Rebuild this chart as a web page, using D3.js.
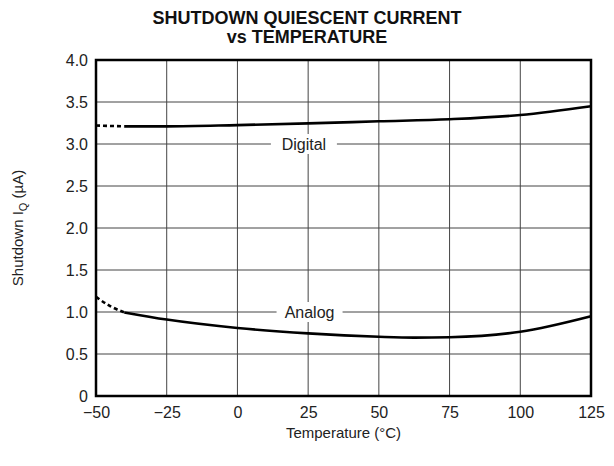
<!DOCTYPE html>
<html>
<head>
<meta charset="utf-8">
<script src="https://cdn.jsdelivr.net/npm/d3@7"></script>
<style>
  html, body { margin: 0; padding: 0; background: #fff; }
  svg { display: block; font-family: "Liberation Sans", Arial, Helvetica, sans-serif; }
</style>
</head>
<body>
<svg id="chart" width="614" height="466"></svg>
<script>
// Shutdown quiescent current vs temperature
const titleLines = ["SHUTDOWN QUIESCENT CURRENT", "vs TEMPERATURE"];
const xTicks = [-50, -25, 0, 25, 50, 75, 100, 125];
const yTicks = [0, 0.5, 1.0, 1.5, 2.0, 2.5, 3.0, 3.5, 4.0];

// Digital supply current (µA); first segment is extrapolated (dashed)
const digitalDashT = [-50, -40];
const digitalDashV = [3.22, 3.21];
const digitalT = [-40, -25, 0, 25, 50, 75, 100, 125];
const digitalV = [3.21, 3.21, 3.225, 3.245, 3.27, 3.295, 3.345, 3.45];

// Analog supply current (µA); first segment is extrapolated (dashed)
const analogDashT = [-50, -45, -40];
const analogDashV = [1.18, 1.07, 0.995];
const analogT = [-40, -25, 0, 25, 50, 62.5, 75, 100, 125];
const analogV = [0.995, 0.91, 0.81, 0.745, 0.705, 0.695, 0.70, 0.765, 0.95];

const curveLabels = [
  { text: "Digital", t: 23.5, v: 3.0 },
  { text: "Analog", t: 25.5, v: 1.0 }
];

const svg = d3.select("#chart");
const m = { left: 96, right: 23, top: 60, bottom: 70 };
const W = 614, H = 466;

const x = d3.scaleLinear().domain([-50, 125]).range([m.left, W - m.right]);
const y = d3.scaleLinear().domain([0, 4]).range([H - m.bottom, m.top]);

// title
svg.append("g").selectAll("text").data(titleLines).join("text")
  .attr("x", 307)
  .attr("y", (d, i) => 24 + i * 19)
  .attr("text-anchor", "middle")
  .attr("font-weight", "bold")
  .attr("font-size", 18)
  .attr("fill", "#111")
  .text(d => d);

// grid
const grid = svg.append("g").attr("stroke", "#444").attr("stroke-width", 1);
grid.selectAll("line.v").data(xTicks.slice(1, -1)).join("line")
  .attr("class", "v")
  .attr("x1", d => x(d)).attr("x2", d => x(d))
  .attr("y1", y(4)).attr("y2", y(0));
grid.selectAll("line.h").data(yTicks.slice(1, -1)).join("line")
  .attr("class", "h")
  .attr("x1", x(-50)).attr("x2", x(125))
  .attr("y1", d => y(d)).attr("y2", d => y(d));

// curve labels on white boxes, over the grid
const lab = svg.append("g").selectAll("g").data(curveLabels).join("g")
  .attr("transform", d => `translate(${x(d.t)},${y(d.v)})`);
lab.append("rect")
  .attr("x", -33).attr("y", -10).attr("width", 66).attr("height", 20)
  .attr("fill", "#fff");
lab.append("text")
  .attr("text-anchor", "middle")
  .attr("dy", "0.36em")
  .attr("font-size", 16)
  .attr("fill", "#222")
  .text(d => d.text);

// curves
const line = d3.line().x(d => x(d[0])).y(d => y(d[1])).curve(d3.curveMonotoneX);
const zip = (a, b) => a.map((t, i) => [t, b[i]]);
const curves = svg.append("g").attr("fill", "none").attr("stroke", "#000").attr("stroke-width", 2.6);
curves.append("path").attr("d", line(zip(digitalT, digitalV)));
curves.append("path").attr("d", line(zip(analogT, analogV)));
curves.append("path").attr("d", line(zip(digitalDashT, digitalDashV))).attr("stroke-dasharray", "4,3");
curves.append("path").attr("d", line(zip(analogDashT, analogDashV))).attr("stroke-dasharray", "4,3");

// frame
svg.append("rect")
  .attr("x", x(-50)).attr("y", y(4))
  .attr("width", x(125) - x(-50)).attr("height", y(0) - y(4))
  .attr("fill", "none").attr("stroke", "#000").attr("stroke-width", 2.5);

// axes (labels only; frame and grid drawn above)
const fmtY = d => d === 0 ? "0" : d3.format(".1f")(d);
const yAxis = svg.append("g")
  .attr("transform", `translate(${x(-50)},0)`)
  .call(d3.axisLeft(y).tickValues(yTicks).tickFormat(fmtY).tickSize(0).tickPadding(8));
const xAxis = svg.append("g")
  .attr("transform", `translate(0,${y(0)})`)
  .call(d3.axisBottom(x).tickValues(xTicks).tickFormat(d => d < 0 ? "\u2212" + Math.abs(d) : d).tickSize(0).tickPadding(11));
[yAxis, xAxis].forEach(a => {
  a.select(".domain").remove();
  a.selectAll("text").attr("font-size", 16).attr("fill", "#222")
    .attr("font-family", "Liberation Sans, Arial, sans-serif");
});

// axis titles
svg.append("text")
  .attr("x", (x(-50) + x(125)) / 2).attr("y", 438)
  .attr("text-anchor", "middle").attr("font-size", 15).attr("fill", "#222")
  .text("Temperature (\u00B0C)");

const yt = svg.append("text")
  .attr("transform", `translate(23,${(y(0) + y(4)) / 2}) rotate(-90)`)
  .attr("text-anchor", "middle").attr("font-size", 15).attr("fill", "#222");
yt.append("tspan").text("Shutdown I");
yt.append("tspan").attr("font-size", 11).attr("dy", 4).text("Q");
yt.append("tspan").attr("dy", -4).text(" (\u00B5A)");
</script>
</body>
</html>
